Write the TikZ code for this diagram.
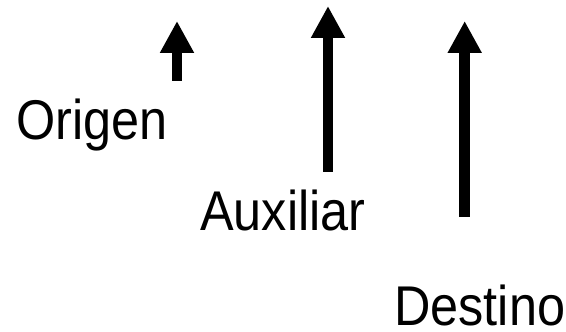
\documentclass[tikz,border=0pt]{standalone}
\usepackage{fontspec}
\setmainfont{Liberation Sans}[FakeStretch=0.9]
\usetikzlibrary{arrows.meta}

\begin{document}
\begin{tikzpicture}[
    x=1pt, y=1pt,
    label/.style={anchor=base west, inner sep=0pt, font=\fontsize{56}{60}\selectfont},
    bigarrow/.style={-{Triangle[length=32pt, width=32pt]}, line width=10.5pt}
]
\useasboundingbox (0,0) rectangle (566,332);

% tails and tips of the three arrows
\coordinate (o1) at (177,251);
\coordinate (o2) at (177,311);
\coordinate (a1) at (328,160);
\coordinate (a2) at (328,326);
\coordinate (d1) at (464.7,115);
\coordinate (d2) at (464.7,311);

\node[label] (origen) at (16.5,192) {Origen};
\node[label] (auxiliar) at (200,101) {Auxiliar};
\node[label] (destino) at (394,6) {Destino};

\draw[bigarrow] (o1) -- (o2);
\draw[bigarrow] (a1) -- (a2);
\draw[bigarrow] (d1) -- (d2);
\end{tikzpicture}
\end{document}
